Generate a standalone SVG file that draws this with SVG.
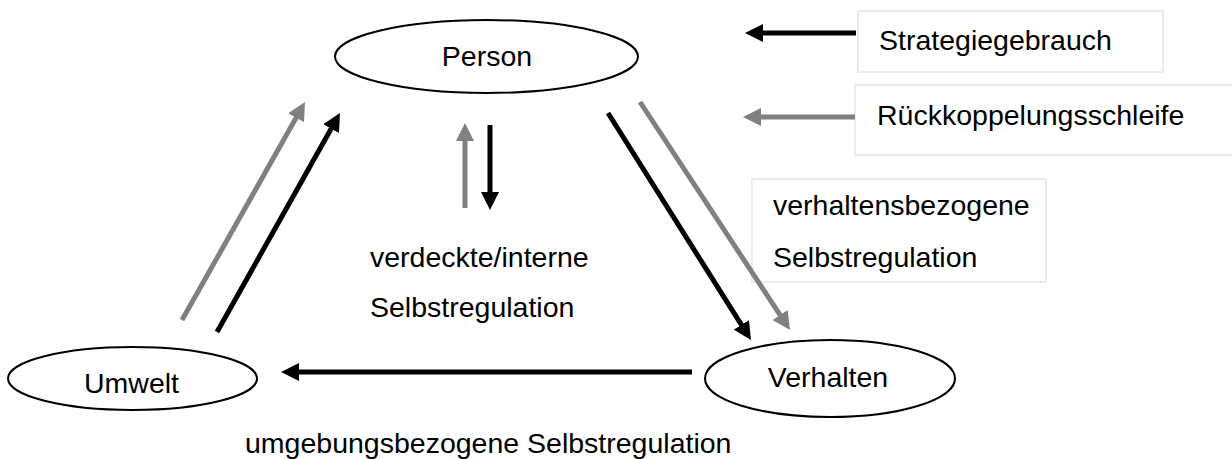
<svg xmlns="http://www.w3.org/2000/svg" width="1232" height="459" viewBox="0 0 1232 459">
<style>
text{font-family:"Liberation Sans",Arial,sans-serif;font-size:28.5px;fill:#000}
.node{fill:#fff;stroke:#000;stroke-width:2}
.box{fill:#fff;stroke:#ececec;stroke-width:2}
.blk{stroke:#000;stroke-width:5;fill:none;marker-end:url(#hb)}
.gry{stroke:#808080;stroke-width:5;fill:none;marker-end:url(#hg)}
</style>
<defs>
<marker id="hb" markerUnits="userSpaceOnUse" markerWidth="18" markerHeight="18" viewBox="0 0 18 18" refX="4" refY="9" orient="auto"><path d="M0,0 L18,9 L0,18 z" fill="#000"/></marker>
<marker id="hg" markerUnits="userSpaceOnUse" markerWidth="18" markerHeight="18" viewBox="0 0 18 18" refX="4" refY="9" orient="auto"><path d="M0,0 L18,9 L0,18 z" fill="#808080"/></marker>
</defs>
<rect width="1232" height="459" fill="#fff"/>
<g id="legend">
<rect class="box" x="858" y="11" width="305" height="61"/>
<text x="879" y="50">Strategiegebrauch</text>
<rect class="box" x="855" y="85" width="380" height="70"/>
<text x="877" y="125">Rückkoppelungsschleife</text>
</g>
<g id="label-verhalten">
<rect class="box" x="752" y="179" width="294" height="103"/>
<text x="773" y="215">verhaltensbezogene</text>
<text x="773" y="267">Selbstregulation</text>
</g>
<g id="label-intern">
<text x="370" y="267">verdeckte/interne</text>
<text x="370" y="317">Selbstregulation</text>
</g>
<g id="label-umgebung">
<text x="245" y="453">umgebungsbezogene Selbstregulation</text>
</g>
<g id="connectors">
<line class="blk" x1="856" y1="33" x2="759" y2="33"/>
<line class="gry" x1="855" y1="117" x2="757" y2="117"/>
<line class="gry" x1="182" y1="320" x2="298.1" y2="114.2"/>
<line class="blk" x1="217" y1="332" x2="333.1" y2="125.2"/>
<line class="blk" x1="608" y1="113" x2="743.5" y2="328.2"/>
<line class="gry" x1="640" y1="102" x2="782.3" y2="318.3"/>
<line class="gry" x1="465" y1="208" x2="465" y2="137"/>
<line class="blk" x1="490" y1="125" x2="490" y2="196"/>
<line class="blk" x1="692" y1="372" x2="295" y2="372"/>
</g>
<g id="person">
<ellipse class="node" cx="486.5" cy="56.5" rx="151.5" ry="36.5"/>
<text x="487" y="66" text-anchor="middle">Person</text>
</g>
<g id="umwelt">
<ellipse class="node" cx="132.5" cy="378.5" rx="124.5" ry="31.5"/>
<text x="131.5" y="393" text-anchor="middle">Umwelt</text>
</g>
<g id="verhalten">
<ellipse class="node" cx="830" cy="378.5" rx="125" ry="38.5"/>
<text x="828" y="387" text-anchor="middle">Verhalten</text>
</g>
</svg>
